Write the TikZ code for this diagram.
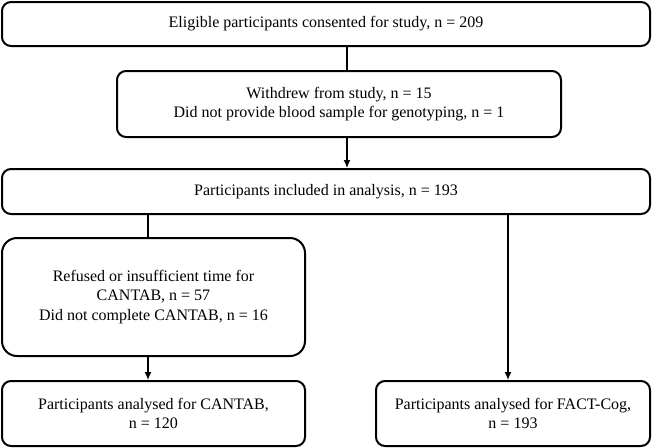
\documentclass[tikz,border=0pt]{standalone}
\usepackage{fontspec}
\setmainfont{Liberation Serif}
\usetikzlibrary{arrows.meta}

\begin{document}
\begin{tikzpicture}[
  x=1pt, y=-1pt,
  box/.style={draw, line width=2pt, rounded corners=9pt, inner sep=0pt,
    align=center, font=\fontsize{16}{19.5}\selectfont},
  link/.style={line width=1.3pt},
  arr/.style={line width=1.3pt, -{Latex[length=8pt,width=7pt]}}
]
  \useasboundingbox (0,0) rectangle (652,447);

  % các hộp
  \node[box, minimum width=648pt, minimum height=44pt] (elig) at (326,24)
    {Eligible participants consented for study, n = 209};
  \node[box, minimum width=444pt, minimum height=66pt] (withdrew) at (339,104)
    {Withdrew from study, n = 15\\Did not provide blood sample for genotyping, n = 1};
  \node[box, minimum width=648pt, minimum height=45pt] (incl) at (326,191.5)
    {Participants included in analysis, n = 193};
  \node[box, rounded corners=15pt, minimum width=303pt, minimum height=118pt] (refused) at (153.5,297)
    {Refused or insufficient time for\\CANTAB, n = 57\\Did not complete CANTAB, n = 16};
  \node[box, minimum width=303pt, minimum height=65pt] (cantab) at (153.5,413.5)
    {Participants analysed for CANTAB,\\n = 120};
  \node[box, minimum width=274pt, minimum height=65pt] (fact) at (513,413.5)
    {Participants analysed for FACT-Cog,\\n = 193};

  % các đường nối
  \coordinate (mid) at (347,0);
  \coordinate (left) at (148,0);
  \coordinate (right) at (508,0);
  \draw[link] (elig.south -| mid) -- (withdrew.north -| mid);
  \draw[arr] (withdrew.south -| mid) -- (incl.north -| mid);
  \draw[link] (incl.south -| left) -- (refused.north -| left);
  \draw[arr] (refused.south -| left) -- (cantab.north -| left);
  \draw[arr] (incl.south -| right) -- (fact.north -| right);
\end{tikzpicture}
\end{document}
